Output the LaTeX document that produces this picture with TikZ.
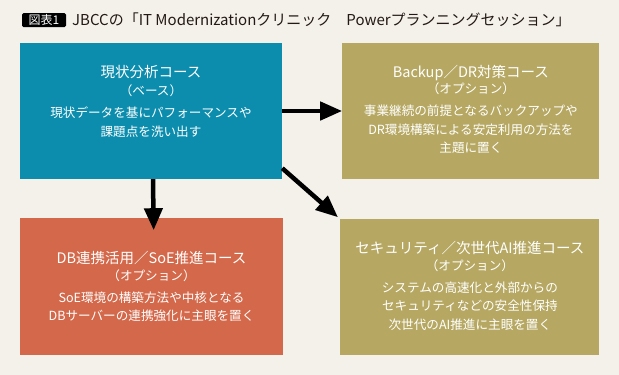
\documentclass[tikz,border=0pt]{standalone}
\usepackage{fontspec}
\setmainfont{Noto Sans CJK JP}
\usepackage{xcolor}
\usetikzlibrary{arrows.meta,positioning}
\definecolor{PageBg}{HTML}{F3F1EA}
\definecolor{CardBlue}{HTML}{0C8DAE}
\definecolor{CardOlive}{HTML}{B6A862}
\definecolor{CardRust}{HTML}{D3684A}
\definecolor{InkDark}{HTML}{231815}
\tikzset{
  cardbox/.style={inner sep=0pt,minimum width=262pt,minimum height=136pt},
  cardtext/.style={anchor=north,inner sep=0pt,align=center,text=white,font=\fontsize{12.6}{18.5}\selectfont},
  headtag/.style={fill=black,rounded corners=1.5pt,text=white,inner sep=0pt,minimum width=44pt,minimum height=14pt,font=\fontsize{12}{14}\selectfont},
  headtitle/.style={anchor=west,inner sep=0pt,text=InkDark,font=\fontsize{15}{17}\selectfont},
  flowarrow/.style={-{Triangle[length=22pt,width=18pt]},line width=4.5pt,draw=black}
}
\newcommand{\cardhead}[1]{{\fontsize{14.5}{18.5}\selectfont #1}}
\begin{document}
\begin{tikzpicture}[x=1pt,y=-1pt]
\fill[PageBg] (0,0) rectangle (619,375);
\useasboundingbox (0,0) rectangle (619,375);
% header
\node[headtag] (tag) at (44,20) {図表1};
\node[headtitle] (head) at (72,20) {JBCCの「IT Modernizationクリニック　Powerプランニングセッション」};
% cards
\node[cardbox,fill=CardBlue] (a) at (151,111) {};
\node[cardbox,fill=CardOlive,minimum width=257pt,right=60pt of a] (b) {};
\node[cardbox,fill=CardRust,minimum width=263pt,minimum height=137pt,below=39pt of a.south west,anchor=north west] (c) {};
\node[cardbox,fill=CardOlive,minimum width=259pt,below=40pt of b.south west,anchor=north west,xshift=-2pt] (d) {};
\node[cardtext,below=22pt of a.north] (at) {\cardhead{現状分析コース}\\（ベース）\\[3.5pt]
  現状データを基にパフォーマンスや\\課題点を洗い出す};
\node[cardtext,below=22pt of b.north] (bt) {\cardhead{Backup／DR対策コース}\\[-2pt]（オプション）\\[3.5pt]
  事業継続の前提となるバックアップや\\DR環境構築による安定利用の方法を\\主題に置く};
\node[cardtext,below=33pt of c.north] (ct) {\cardhead{DB連携活用／SoE推進コース}\\[-2pt]（オプション）\\[3.5pt]
  SoE環境の構築方法や中核となる\\DBサーバーの連携強化に主眼を置く};
\node[cardtext,below=22pt of d.north] (dt) {\cardhead{セキュリティ／次世代AI推進コース}\\[-2pt]（オプション）\\[3.5pt]
  システムの高速化と外部からの\\セキュリティなどの安全性保持\\次世代のAI推進に主眼を置く};
% arrows
\draw[flowarrow] (a.east) -- (b.west);
\draw[flowarrow,shorten >=-12pt] ([xshift=2pt]a.south) -- ([xshift=2pt]c.north);
\draw[flowarrow,shorten >=3pt] ([yshift=11pt]a.south east) -- (d.north west);
\end{tikzpicture}
\end{document}
